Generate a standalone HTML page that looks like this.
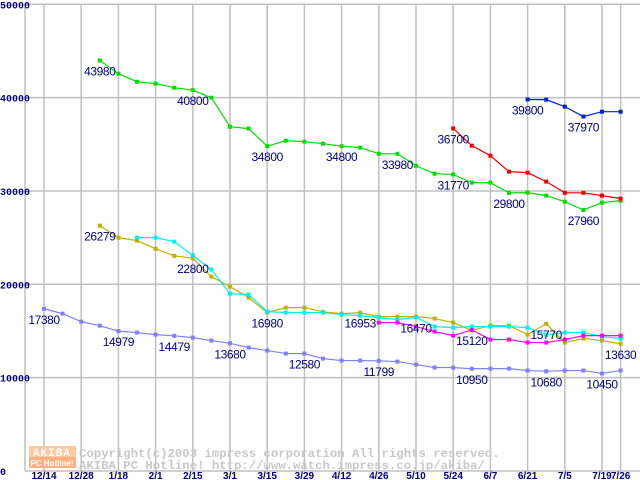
<!DOCTYPE html>
<html><head><meta charset="utf-8"><style>
html,body{margin:0;padding:0;background:#fff;width:640px;height:480px;overflow:hidden}
svg{display:block}
.yt{font:bold 10px "Liberation Mono",monospace;fill:#000080}
.xt{font:bold 10px "Liberation Sans",sans-serif;fill:#000080}
.lb{font:12px "Liberation Sans",sans-serif;fill:#000080;letter-spacing:-0.4px}
.wm{font:bold 12.3px "Liberation Mono",monospace;fill:#c8c8c8}
</style></head><body>
<svg id="chart" width="640" height="480" xmlns="http://www.w3.org/2000/svg">
<g id="grid"></g>
<g id="ticks"></g>
<g id="wm">
<rect x="29" y="446" width="47" height="11" fill="#ffc8a0"/>
<text x="52" y="456" text-anchor="middle" style="font:bold 11px 'Liberation Mono',monospace;fill:#fff;letter-spacing:1px">AKIBA</text>
<rect x="29" y="457" width="47" height="11" fill="#ffb080"/>
<text x="52" y="466" text-anchor="middle" style="font:bold 8px 'Liberation Sans',sans-serif;fill:#fff">PC Hotline!</text>
<text class="wm" x="79" y="457">Copyright(c)2003 impress corporation All rights reserved.</text>
<text class="wm" x="79" y="469">AKIBA PC Hotline!  http://www.watch.impress.co.jp/akiba/</text>
</g>
<g id="series"></g>
<g id="labels"></g>
</svg>
<script>
const xLabels=["12/14","","12/28","","1/18","","2/1","","2/15","","3/1","","3/15","","3/29","","4/12","","4/26","","5/10","","5/24","","6/7","","6/21","","7/5","","7/19","7/26"];
const yTicks=[0,10000,20000,30000,40000,50000];
const greenStart=3;
const greenVals=[43980,42560,41700,41500,41060,40800,39990,36880,36680,34800,35390,35280,35060,34800,34640,33990,33980,32700,31850,31770,30890,30890,29800,29820,29500,28850,27960,28750,28960];
const redStart=22;
const redVals=[36700,34850,33780,32070,31960,31000,29800,29800,29500,29180];
const blueStart=26;
const blueVals=[39800,39780,39030,37970,38490,38490];
const oliveStart=3;
const oliveVals=[26279,25000,24680,23800,23050,22800,20820,19750,18570,16980,17500,17500,17050,16860,16953,16540,16540,16540,16330,15900,15040,15580,15580,14610,15770,13760,14190,13970,13630];
const cyanStart=5;
const cyanVals=[25000,25000,24570,23100,21570,19000,18900,17080,16970,16970,16970,16760,16650,16430,16220,16470,15470,15360,15470,15470,15470,15360,14610,14830,14830,14400,14190];
const magentaStart=18;
const magentaVals=[15900,15900,15470,14940,14500,15120,14080,14080,13760,13760,14080,14500,14500,14500];
const periStart=0;
const periVals=[17380,16860,16000,15570,14979,14830,14610,14479,14290,13970,13680,13220,12900,12580,12580,12040,11830,11830,11799,11720,11400,11080,11080,10950,10970,10970,10760,10680,10760,10760,10450,10760];
const seriesList=[
 {name:"series-green",color:"#00e000",start:greenStart,vals:greenVals,labels:[3,8,12,16,19,22,25,29]},
 {name:"series-red",color:"#f00000",start:redStart,vals:redVals,labels:[22]},
 {name:"series-blue",color:"#0020e0",start:blueStart,vals:blueVals,labels:[26,29]},
 {name:"series-periwinkle",color:"#8080ff",start:periStart,vals:periVals,labels:[0,4,7,10,14,18,23,27,30]},
 {name:"series-olive",color:"#c0b000",start:oliveStart,vals:oliveVals,labels:[3,8,12,17,27,31]},
 {name:"series-cyan",color:"#00f0f0",start:cyanStart,vals:cyanVals,labels:[20]},
 {name:"series-magenta",color:"#ff00ff",start:magentaStart,vals:magentaVals,labels:[23]}
];
const NS="http://www.w3.org/2000/svg";
function xs(i){return 44+i*18.6;}
function ys(v){return 471-v*0.009335;}
function mk(tag,attrs,parent){const e=document.createElementNS(NS,tag);for(const k in attrs)e.setAttribute(k,attrs[k]);parent.appendChild(e);return e;}
const grid=document.getElementById('grid'),ticks=document.getElementById('ticks');
yTicks.forEach(v=>{
 const l=mk('line',{x1:25,x2:640,y1:ys(v),y2:ys(v),stroke:'#c0c0c0','stroke-width':1.5},grid);
 
 
 const t=mk('text',{x:0,y:ys(v)+4,class:'yt'},ticks);
 t.textContent=String(v);
 
 
});
const ax=mk('line',{x1:25,x2:25,y1:ys(50000),y2:ys(0),stroke:'#c0c0c0','stroke-width':1.5},grid);


xLabels.forEach((s,i)=>{
 if(!s)return;
 const l=mk('line',{x1:xs(i),x2:xs(i),y1:ys(50000),y2:ys(0),stroke:'#c0c0c0','stroke-width':1.5},grid);
 
 
 const t=mk('text',{x:xs(i),y:479,class:'xt','text-anchor':'middle'},ticks);
 t.textContent=s;
 
 
});
const sg=document.getElementById('series'),lg=document.getElementById('labels');
seriesList.forEach(s=>{
 const g=mk('g',{},sg);
 
 
 const pts=s.vals.map((v,k)=>[xs(s.start+k),ys(v)]);
 const p=mk('polyline',{points:pts.map(q=>q.join(',')).join(' '),fill:'none',stroke:s.color,'stroke-width':1.2},g);
 
 
 pts.forEach(q=>{
  const r=mk('rect',{x:q[0]-2,y:q[1]-2,width:4,height:4,fill:s.color},g);
  
  
 });
 s.labels.forEach(i=>{
  const k=i-s.start;
  const t=mk('text',{x:xs(i),y:ys(s.vals[k])+15,class:'lb','text-anchor':'middle'},lg);
  t.textContent=String(s.vals[k]);
  
  
 });
});
</script>
</body></html>
